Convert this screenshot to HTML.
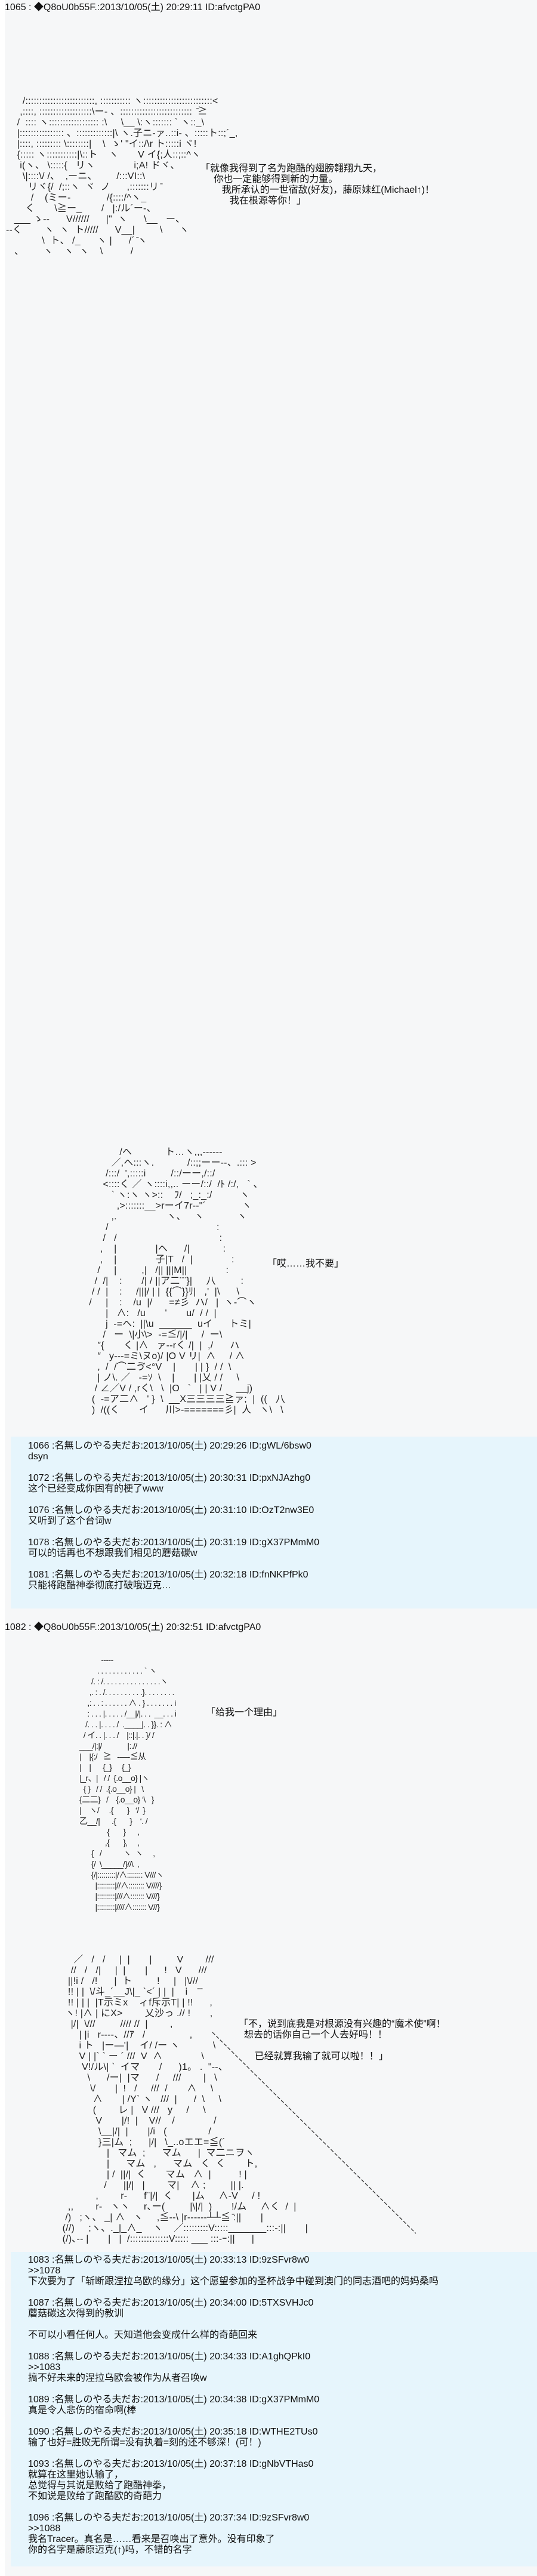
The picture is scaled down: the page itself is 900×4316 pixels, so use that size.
<!DOCTYPE html>
<html><head><meta charset="utf-8">
<style>
html,body{margin:0;padding:0;}
body{width:900px;height:4316px;background:#fff;position:relative;overflow:hidden;
font-family:"Liberation Sans","Noto Sans CJK SC",sans-serif;font-size:16px;color:#111;}
#main{position:absolute;left:8px;top:0;width:892px;height:4316px;background:#f6f7f8;}
.box{position:absolute;left:18px;width:882px;background:#e6f5fc;}
.t{position:absolute;white-space:pre;line-height:18px;}
.aa{position:absolute;white-space:pre;line-height:18px;font-size:16px;color:#222;letter-spacing:0.2px;}
</style></head><body>
<div id="main"></div>

<div class="t" style="left:8px;top:4px;">1065 : ◆Q8oU0b55F.:2013/10/05(土) 20:29:11 ID:afvctgPA0</div>

<div class="aa" style="left:10px;top:161px;">      /:::::::::::::::::::::::::, ::::::::::: ヽ:::::::::::::::::::::::::<
     ,::::, :::::::::::::::::::\ー- 、::::::::::::::::::::::::::  ̄≧
    /  :::: ヽ:::::::::::::::::: :\     \__ \:ヽ::::::: ` ヽ::_\
    |:::::::::::::::: 、:::::::::::::|\ ヽ.子ニ-ァ..::i- 、:::::ト::;´_,
    |::::, ::::::::: \::::::::|    \  ゝ' "イ::/\r ト:::::i ヾ!
    {::::: ヽ:::::::::::|\::ト    ヽ       V イ{;人::;::^ヽ
     i(ヽ、 \:::::{   リヽ              i;A! ドヾ、
      \|::::\/ /、  ,ーニ、       /:::VI::\
        リヾ{/  /;::ヽ  ヾ  ノ      ,:::::::リ ̄
         /    (ミー-             /{::::/^ヽ_
       く       \≧ー_       /   |:/ル´ー-、
   ___ ゝ--      V//////      |"  ヽ      \__   ー、
--く        ヽ  ヽ  ト/////      V__|         \      ヽ
             \  ト、 /_      ヽ |      /´ ̄ヽ
   、       ヽ    ヽ  ヽ    \          /</div>
<div class="t" style="left:336px;top:274px;">「就像我得到了名为跑酷的翅膀翱翔九天，
     你也一定能够得到新的力量。
        我所承认的一世宿敌(好友)，藤原妹红(Michael↑)！
           我在根源等你！」</div>

<div class="aa" style="left:140px;top:1922px;">             /ヘ            ト…ヽ,,,------
          ／,ヘ:::ヽ.            /::;;ーー--、.::: >
        /:::/  ',:::::i         /::/ーー,/::/
       <::::く ／ ヽ::::i,,.. ーー/::/  /ﾄ /:/,   ` 、
          ` ヽ:ヽ ヽ>::    ﾌ/   ;_:_:/          ヽ
            ,>:::::::__>rーイ7r--"´             ヽ
          ,.                  ヽ、   ヽ            ヽ
        /                                       :
       /   /                                     :
      ,    |              |ヘ      /|            :
      ,    |              子|T   /  |              :     
     /     |         ,|   /|| |||M||              :
    /  /|    :       /| / ||ア二¨¨}|     八         :
   / /  |    :     /|||/ | |  {{⌒}}ﾘ|   ,'  |\      \
  /     |    :    /u  |/      =≠彡  ハ/   |  ヽ-⌒ヽ
        |   ∧:   /u       '       u/  / /  |
        j  -=ヘ:  ||\u  ______  uイ      トミ|
       /   ー  \|小\>  -=≦/|/|     /  ー\
     ″{       く |∧   ァ--rく /|  |  ,/      ハ
     ″   y---=ミ\ヌo)/ |O V リ|  ∧     / ∧
     ,  /  /⌒二ゔ<°V    |       | | }  / /  \
     | ノ\. ／   -=ｿ  \    |       | |乂 / /     \
    / ∠／V / ,rく\   \  |O   `   | | V /     __j)
   (  -=ア二∧   ' }  \  __X三三三三≧ァ;  |  ((   八
   )  /((く       イ      川>-=======彡|  人   ヽ\   \</div>
<div class="t" style="left:448px;top:2109px;">「哎……我不要」</div>

<div class="box" style="top:2407px;height:288px;"></div>
<div class="t" style="left:47px;top:2414px;">1066 :名無しのやる夫だお:2013/10/05(土) 20:29:26 ID:gWL/6bsw0
dsyn

1072 :名無しのやる夫だお:2013/10/05(土) 20:30:31 ID:pxNJAzhg0
这个已经变成你固有的梗了www

1076 :名無しのやる夫だお:2013/10/05(土) 20:31:10 ID:OzT2nw3E0
又听到了这个台词w

1078 :名無しのやる夫だお:2013/10/05(土) 20:31:19 ID:gX37PMmM0
可以的话再也不想跟我们相见的蘑菇碳w

1081 :名無しのやる夫だお:2013/10/05(土) 20:32:18 ID:fnNKPfPk0
只能将跑酷神拳彻底打破哦迈克…</div>

<div class="t" style="left:8px;top:2718px;">1082 : ◆Q8oU0b55F.:2013/10/05(土) 20:32:51 ID:afvctgPA0</div>

<div class="aa" style="left:120px;top:2772px;font-size:14px;letter-spacing:-0.6px;">               -----
             . . . . . . . . . . . . ` ヽ
          /. : /. . . . . . . . . . . . . . .ヽ
         ,. : . /. . . . . . . . . .}. . . . . . . .
        ,: . . : . . . . . . ∧ . } . . . . . . . i
        : . . . |. . . . . /__|/|. . .  __. . . i
       /. . . |. . . . /  .____|. . }}. : ∧
      / イ. . |. . . /    |::|.|. . }/ /
    ___/|:|/             |:.//
    |    |{:/   ≧   -―-≦从
    |    |      {_}     {_}
    |_r、|   / /  {.o__o} |ヽ
      { }   / /  .{.o__o} |   \
    {二二}   /    {.o__o} ‘\   }
    |    ヽ/     .{       }   ‘/  }
    乙__/|      .{       }    ‘. /
                  {       }      ,
                 ,{       },     ,
          {   /           ヽ  ヽ     ,
          {/  \_____/}//\  ,
          {/|:::::::::|/∧:::::::: V///ヽ
            |:::::::::|//∧:::::::: V////}
            |:::::::::|///∧::::::: V///}
            |:::::::::|////∧::::::: V//}</div>
<div class="t" style="left:345px;top:2861px;">「给我一个理由」</div>

<div class="aa" style="left:100px;top:3275px;">     ／   /   /     |  |       |         V        ///
    //   /   /|     |  |       |      !   V      ///
   ||!i /   /!      |  ト         !     |   |\///
   !! | |  \/斗_´__J\|_ `<´ | |  |    i    ̄ ̄
   !! | | |  |T示ミx    ィf斥示T| | !!      ,
  ヽ! |∧ | にX>        乂沙っ .// !       ,
    |/|  \///         //// //  |        ,
       | |i   r----、//ｱ   /                ,
       i ト   |ー―'|    イ/ /ー ヽ            \
       V | |` ` ー ´ ///  V  ∧              \
        V!/ル\| `  イマ       /      )1。 .  "--、
          \      /ー|  |マ      /     ///        |   \
           \/       |  !   /     ///  /       ∧     \
            ∧       | /Y` ヽ   ///  |      /  \     \
            (        レ |   V ///   y     /     \
             V       |/!  |    V//    /              /
              \__|/|  |       |/i   (               /
              }三|ム  ;      |/|   \_..oエエ=≦(´
                 |   マム  ;      マム      |  マ二ニヲヽ
                 |      マム   ,      マム   く  く       ト,
                 | /  ||/|  く       マム   ∧  |          ! |
                /      ||/|   |        マ|    ∧ ;         || |.
             ,        r-      f¨|/|  く       |ム     ∧-V     / !
   ,,        r-   ヽヽ     r､ー(         |\|/|  )       !/ム     ∧く  /  |
  /)   ;ヽ、 _| ∧   ヽ     ,≦--\ |r------┴┴≦ ̄:||       |
 (//)     ;ヽ、._|_∧_    ヽ    ／:::::::::V:::::_______:::-:||       |
 (/)､-- |       |   |  /::::::::::::::V::::: ___ :::-ｰ:||      |</div>
<svg style="position:absolute;left:0;top:0" width="900" height="4316">
<line x1="356" y1="3405" x2="697" y2="3742" stroke="#333" stroke-width="1.3" stroke-dasharray="6,3"/>
</svg>
<div class="t" style="left:400px;top:3383px;">「不，说到底我是对根源没有兴趣的“魔术使”啊！
  想去的话你自己一个人去好吗！！

      已经就算我输了就可以啦！！」</div>

<div class="box" style="top:3773px;height:527px;"></div>
<div class="t" style="left:47px;top:3778px;">1083 :名無しのやる夫だお:2013/10/05(土) 20:33:13 ID:9zSFvr8w0
&gt;&gt;1078
下次要为了「斩断跟涅拉乌欧的缘分」这个愿望参加的圣杯战争中碰到澳门的同志酒吧的妈妈桑吗

1087 :名無しのやる夫だお:2013/10/05(土) 20:34:00 ID:5TXSVHJc0
蘑菇碳这次得到的教训

不可以小看任何人。天知道他会变成什么样的奇葩回来

1088 :名無しのやる夫だお:2013/10/05(土) 20:34:33 ID:A1ghQPkI0
&gt;&gt;1083
搞不好未来的涅拉乌欧会被作为从者召唤w

1089 :名無しのやる夫だお:2013/10/05(土) 20:34:38 ID:gX37PMmM0
真是令人悲伤的宿命啊(棒

1090 :名無しのやる夫だお:2013/10/05(土) 20:35:18 ID:WTHE2TUs0
输了也好=胜败无所谓=没有执着=刻的还不够深！(可！)

1093 :名無しのやる夫だお:2013/10/05(土) 20:37:18 ID:gNbVTHas0
就算在这里她认输了，
总觉得与其说是败给了跑酷神拳，
不如说是败给了跑酷欧的奇葩力

1096 :名無しのやる夫だお:2013/10/05(土) 20:37:34 ID:9zSFvr8w0
&gt;&gt;1088
我名Tracer。真名是……看来是召唤出了意外。没有印象了
你的名字是藤原迈克(↑)吗，不错的名字</div>
</body></html>
